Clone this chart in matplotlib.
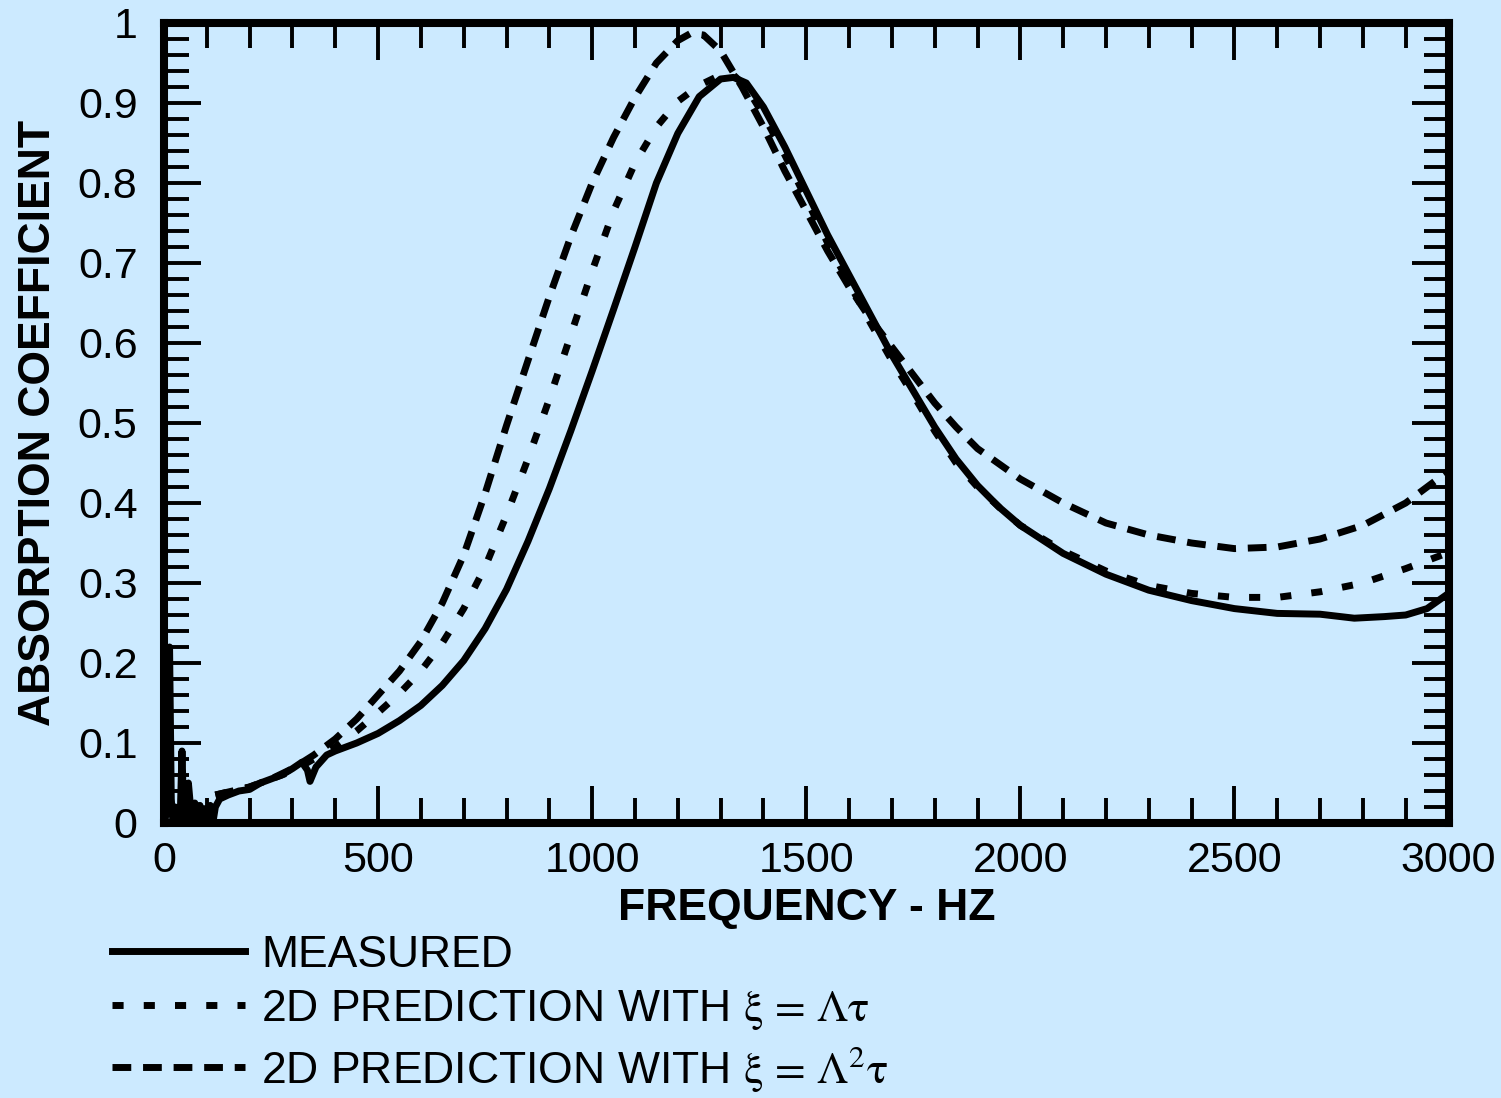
import matplotlib
matplotlib.use('Agg')
import matplotlib.pyplot as plt
from matplotlib.ticker import MultipleLocator, FuncFormatter

# Measured absorption coefficient
freq_meas = [2, 8, 13, 17, 21, 26, 32, 38, 42, 46, 52, 57, 62, 66, 72, 78, 84, 90, 96,
             102, 108, 114, 120, 130, 150, 175, 200, 225, 250, 275, 300, 322, 335, 341,
             355, 380, 400, 450, 500, 550, 600, 650, 700, 750, 800, 850, 900, 950, 1000,
             1050, 1100, 1150, 1200, 1250, 1300, 1330, 1360, 1400, 1450, 1500, 1550, 1600,
             1650, 1700, 1750, 1800, 1850, 1900, 1950, 2000, 2100, 2200, 2300, 2400, 2500,
             2600, 2700, 2780, 2850, 2900, 2950, 3000]
alpha_meas = [0.0, 0.03, 0.22, 0.03, 0.0, 0.02, 0.0, 0.01, 0.09, 0.01, 0.0, 0.05, 0.02,
              0.0, 0.025, 0.005, 0.022, 0.0, 0.018, 0.008, 0.022, 0.0, 0.02, 0.03, 0.035,
              0.04, 0.042, 0.05, 0.055, 0.06, 0.068, 0.076, 0.066, 0.052, 0.07, 0.085,
              0.09, 0.1, 0.112, 0.128, 0.147, 0.172, 0.203, 0.243, 0.292, 0.352, 0.418,
              0.49, 0.565, 0.642, 0.72, 0.8, 0.862, 0.908, 0.93, 0.932, 0.925, 0.895,
              0.845, 0.79, 0.735, 0.685, 0.635, 0.585, 0.54, 0.495, 0.455, 0.422, 0.395,
              0.372, 0.337, 0.311, 0.291, 0.278, 0.268, 0.262, 0.261, 0.256, 0.258, 0.26,
              0.268, 0.287]

# 2D prediction, xi = Lambda tau
freq_p1 = [120, 200, 250, 300, 350, 400, 450, 500, 550, 600, 650, 700, 750, 800, 850,
           900, 950, 1000, 1050, 1100, 1150, 1200, 1250, 1300, 1330, 1360, 1400, 1450,
           1500, 1550, 1600, 1650, 1700, 1750, 1800, 1850, 1900, 1950, 2000, 2100, 2200,
           2300, 2400, 2500, 2600, 2700, 2800, 2900, 3000]
alpha_p1 = [0.035, 0.045, 0.055, 0.065, 0.08, 0.095, 0.115, 0.138, 0.162, 0.19, 0.225,
            0.268, 0.32, 0.385, 0.455, 0.53, 0.61, 0.69, 0.765, 0.825, 0.87, 0.902, 0.922,
            0.935, 0.935, 0.92, 0.885, 0.835, 0.78, 0.725, 0.675, 0.625, 0.578, 0.535,
            0.49, 0.45, 0.42, 0.395, 0.372, 0.34, 0.315, 0.297, 0.287, 0.282, 0.282,
            0.289, 0.3, 0.318, 0.338]

# 2D prediction, xi = Lambda^2 tau
freq_p2 = [120, 200, 250, 300, 350, 400, 450, 500, 550, 600, 650, 700, 750, 800, 850,
           900, 950, 1000, 1050, 1100, 1150, 1200, 1230, 1260, 1300, 1350, 1400, 1450,
           1500, 1550, 1600, 1650, 1700, 1750, 1800, 1850, 1900, 2000, 2100, 2200, 2300,
           2400, 2500, 2600, 2700, 2800, 2900, 3000]
alpha_p2 = [0.035, 0.045, 0.055, 0.068, 0.085, 0.105, 0.13, 0.16, 0.19, 0.227, 0.275,
            0.335, 0.412, 0.497, 0.578, 0.658, 0.733, 0.8, 0.857, 0.907, 0.95, 0.978,
            0.987, 0.985, 0.965, 0.92, 0.87, 0.815, 0.765, 0.715, 0.67, 0.63, 0.595, 0.56,
            0.525, 0.495, 0.468, 0.43, 0.4, 0.375, 0.36, 0.35, 0.343, 0.345, 0.355, 0.372,
            0.4, 0.44]

labels = ['MEASURED',
          r'2D PREDICTION WITH $\xi\,=\,\Lambda\tau$',
          r'2D PREDICTION WITH $\xi\,=\,\Lambda^{2}\tau$']

bg = '#cceaff'
plt.rcParams['font.family'] = ['Liberation Sans', 'DejaVu Sans']
plt.rcParams['mathtext.fontset'] = 'stix'
plt.rcParams['mathtext.default'] = 'rm'

fig = plt.figure(figsize=(15.01, 10.98), dpi=100, facecolor=bg)
ax = fig.add_axes([164 / 1501, 1 - 823 / 1098, 1284.5 / 1501, 800 / 1098], facecolor=bg)

lw = 5
l1, = ax.plot(freq_meas, alpha_meas, color='black', lw=lw, solid_joinstyle='round')
l2, = ax.plot(freq_p1, alpha_p1, color='black', lw=lw, linestyle=(0, (1.6, 2.9)))
l3, = ax.plot(freq_p2, alpha_p2, color='black', lw=lw, linestyle=(0, (2.7, 1.7)))

ax.set_xlim(0, 3000)
ax.set_ylim(0, 1)
ax.xaxis.set_major_locator(MultipleLocator(500))
ax.xaxis.set_minor_locator(MultipleLocator(100))
ax.yaxis.set_major_locator(MultipleLocator(0.1))
ax.yaxis.set_minor_locator(MultipleLocator(0.02))
ax.yaxis.set_major_formatter(FuncFormatter(lambda v, p: f'{v:.1f}'.rstrip('0').rstrip('.') if v else '0'))

for s in ax.spines.values():
    s.set_linewidth(5.8)
ax.tick_params(which='both', direction='in', top=True, right=True, width=2.8, labelsize=31)
ax.tick_params(which='major', length=26.5)
ax.tick_params(which='minor', length=18)
ax.tick_params(axis='x', pad=13)
ax.tick_params(axis='y', pad=19)

ax.set_xlabel('FREQUENCY - HZ', fontsize=32, fontweight='bold')
ax.set_ylabel('ABSORPTION COEFFICIENT', fontsize=32, fontweight='bold')
ax.xaxis.set_label_coords(0.5, -0.081)
ax.yaxis.set_label_coords(-0.082, 0.5)

fig.legend([l1, l2, l3], labels, loc='upper left', bbox_to_anchor=(112 / 1501, 1 - 935 / 1098),
           frameon=False, fontsize=32, borderpad=0, borderaxespad=0, handlelength=3.0,
           handletextpad=0.35, labelspacing=0.27)

fig.savefig('out.png', dpi=100, facecolor=bg)
